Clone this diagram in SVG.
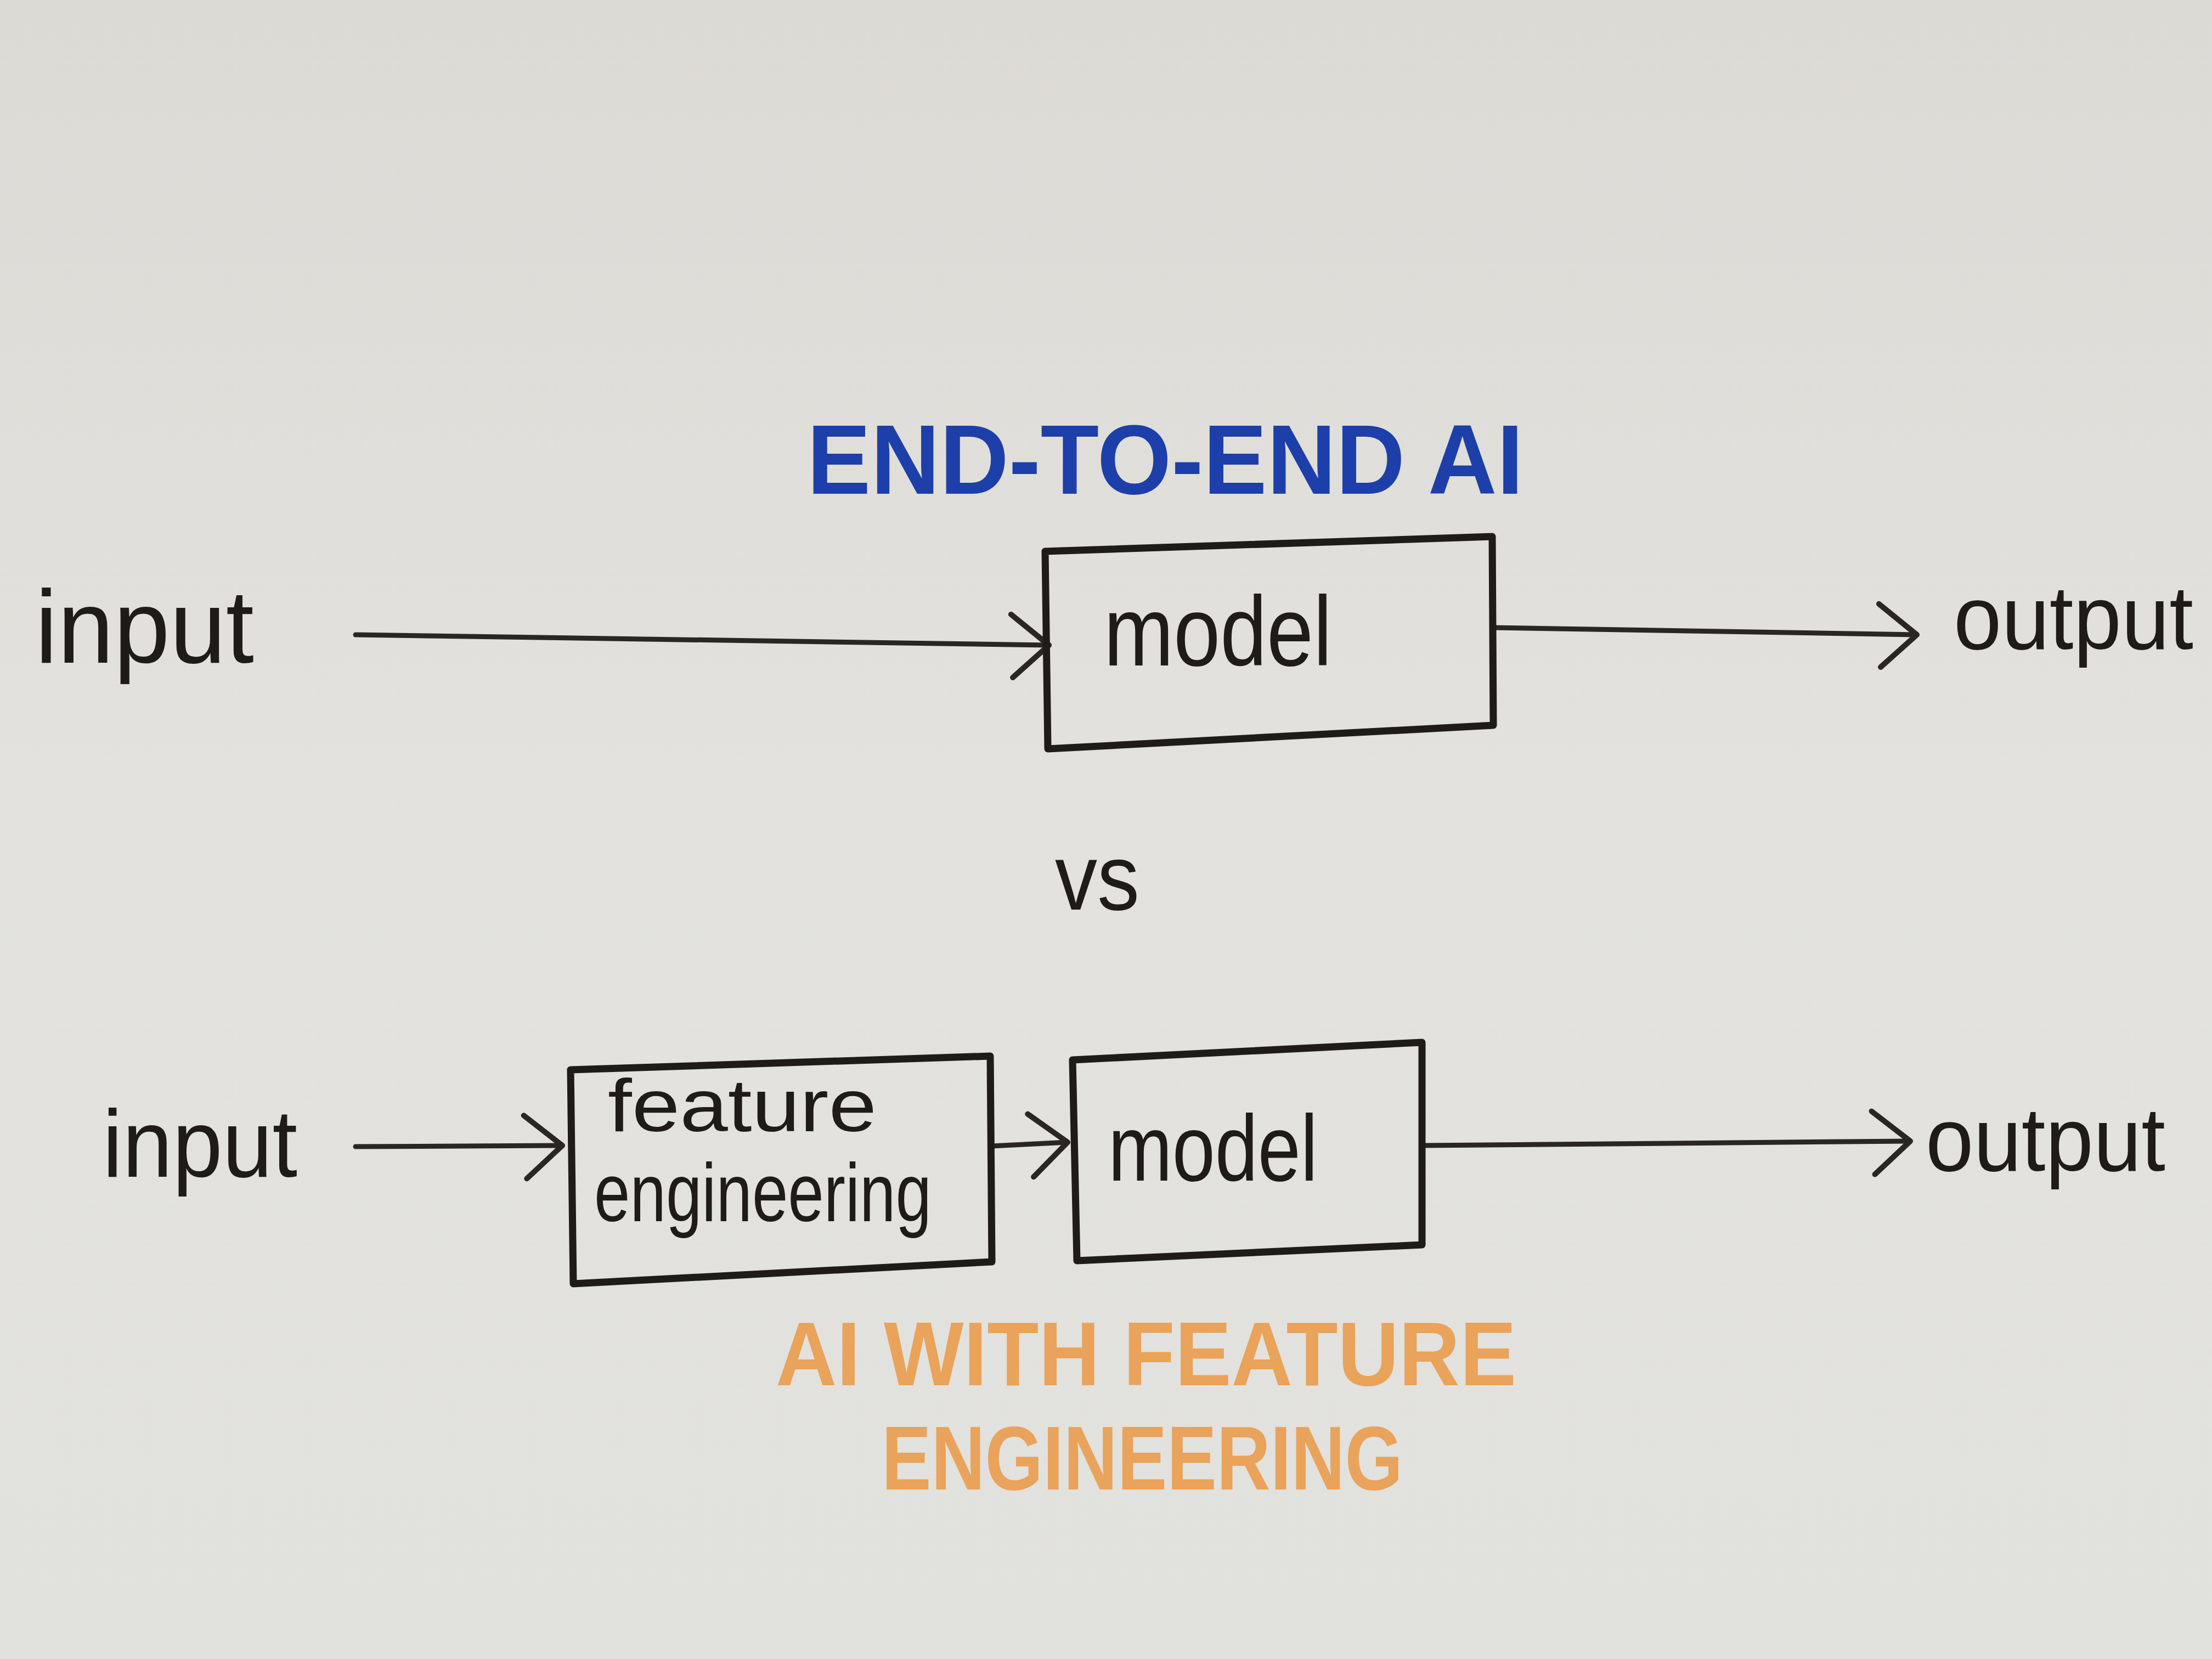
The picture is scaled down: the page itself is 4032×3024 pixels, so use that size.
<svg xmlns="http://www.w3.org/2000/svg" width="4032" height="3024" viewBox="0 0 4032 3024">
<style>
.ink{font-family:"Liberation Sans","Open Sans",sans-serif;fill:#1f1b19}
.box{fill:none;stroke:#1f1b19;stroke-width:13;stroke-linejoin:round;stroke-linecap:round}
.arr{fill:none;stroke:#2a2624;stroke-width:9;stroke-linecap:round}
.blue{font-family:"Liberation Sans",sans-serif;font-weight:bold;fill:#1d3faa}
.orange{font-family:"Liberation Sans",sans-serif;font-weight:bold;fill:#e9a35a}
</style>
<defs>
<linearGradient id="bg" x1="0" y1="0" x2="0" y2="1">
<stop offset="0" stop-color="#dcdad5"/>
<stop offset="0.5" stop-color="#e3e2de"/>
<stop offset="1" stop-color="#e1e1de"/>
</linearGradient>
<marker id="chev" viewBox="-80 -70 90 140" markerWidth="90" markerHeight="140" refX="0" refY="0" orient="auto" markerUnits="userSpaceOnUse">
<path d="M-70,-55 L0,0 L-65,60" fill="none" stroke="#2a2624" stroke-width="10" stroke-linecap="round" stroke-linejoin="round"/>
</marker>
</defs>
<rect width="4032" height="3024" fill="url(#bg)"/>
<text id="title-top" class="blue" x="2124" y="900" font-size="180" text-anchor="middle" textLength="1306" lengthAdjust="spacingAndGlyphs">END-TO-END AI</text>
<g id="connectors">
<path class="arr" d="M648,1157 L1912,1176" marker-end="url(#chev)"/>
<path class="arr" d="M2722,1144 L3494,1157" marker-end="url(#chev)"/>
<path class="arr" d="M648,2090 L1025,2088" marker-end="url(#chev)"/>
<path class="arr" d="M1808,2089 L1946,2082" marker-end="url(#chev)"/>
<path class="arr" d="M2592,2088 L3482,2080" marker-end="url(#chev)"/>
</g>
<g id="input-top"><text class="ink" x="64" y="1208" font-size="190" textLength="399" lengthAdjust="spacingAndGlyphs">input</text></g>
<g id="model-top">
<path class="box" d="M1905,1005 L2720,978 L2722,1322 L1910,1365 Z"/>
<text class="ink" x="2012" y="1213" font-size="180" textLength="416" lengthAdjust="spacingAndGlyphs">model</text>
</g>
<g id="output-top"><text class="ink" x="3561" y="1183" font-size="165" textLength="437" lengthAdjust="spacingAndGlyphs">output</text></g>
<text id="vs" class="ink" x="1923" y="1658" font-size="170" textLength="154" lengthAdjust="spacingAndGlyphs">vs</text>
<g id="input-bottom"><text class="ink" x="187" y="2145" font-size="175" textLength="355" lengthAdjust="spacingAndGlyphs">input</text></g>
<g id="feature-engineering">
<path class="box" d="M1040,1950 L1805,1925 L1808,2300 L1045,2340 Z"/>
<text class="ink" x="1108" y="2062" font-size="135" textLength="490" lengthAdjust="spacingAndGlyphs">feature</text>
<text class="ink" x="1083" y="2226" font-size="150" textLength="615" lengthAdjust="spacingAndGlyphs">engineering</text>
</g>
<g id="model-bottom">
<path class="box" d="M1955,1932 L2592,1900 L2592,2269 L1963,2298 Z"/>
<text class="ink" x="2020" y="2152" font-size="170" textLength="382" lengthAdjust="spacingAndGlyphs">model</text>
</g>
<g id="output-bottom"><text class="ink" x="3510" y="2134" font-size="165" textLength="437" lengthAdjust="spacingAndGlyphs">output</text></g>
<text id="title-bottom-1" class="orange" x="1414" y="2525" font-size="165" textLength="1350" lengthAdjust="spacingAndGlyphs">AI WITH FEATURE</text>
<text id="title-bottom-2" class="orange" x="1607" y="2715" font-size="165" textLength="950" lengthAdjust="spacingAndGlyphs">ENGINEERING</text>
</svg>
